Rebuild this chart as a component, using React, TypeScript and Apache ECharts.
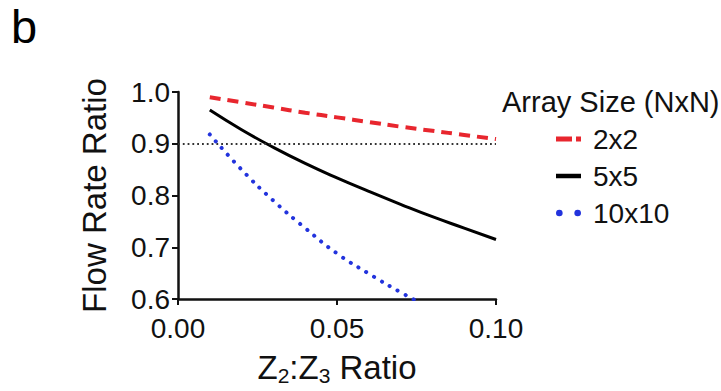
import React, { useEffect, useRef } from "react";
import * as echarts from "echarts";

const xValues = [0.01, 0.02, 0.03, 0.04, 0.05, 0.06, 0.07, 0.08, 0.09, 0.1];
const series2x2 = [0.99, 0.98, 0.97, 0.96, 0.951, 0.942, 0.933, 0.925, 0.917, 0.909];
const series5x5 = [0.965, 0.927, 0.893, 0.862, 0.834, 0.808, 0.783, 0.759, 0.737, 0.715];
const series10x10 = [0.918, 0.85, 0.79, 0.737, 0.688, 0.649, 0.613, 0.58];
const seriesNames = ["2x2", "5x5", "10x10"];
const thresholdValue = 0.9;

const FONT = "Liberation Sans, Arial, Helvetica, sans-serif";

const legendIcons = [
  "path://M0,0h16v5h-16z M20,0h5v5h-5z",
  "path://M0,0h25v4.5h-25z",
  "path://M0,2a2,2 0 1,0 4,0a2,2 0 1,0 -4,0z M11,2a2,2 0 1,0 4,0a2,2 0 1,0 -4,0z",
];

export default function App() {
  const ref = useRef<HTMLDivElement>(null);
  useEffect(() => {
    document.body.style.margin = "0";
    if (!ref.current) return;
    const chart = echarts.init(ref.current, null, { renderer: "svg" });
    const pair = (vals: number[]) => vals.map((v, i) => [xValues[i], v]);
    chart.setOption({
      animation: false,
      backgroundColor: "#ffffff",
      textStyle: { fontFamily: FONT },
      grid: { left: 178, right: 225, top: 92, bottom: 87, containLabel: false },
      graphic: [
        {
          type: "text",
          left: 11,
          top: 3,
          style: { text: "b", fontSize: 47, fontFamily: FONT, fill: "#000" },
        },
        {
          type: "text",
          left: 502,
          top: 87,
          style: { text: "Array Size (NxN)", fontSize: 29, fontFamily: FONT, fill: "#111" },
        },
      ],
      legend: {
        orient: "vertical",
        left: 551,
        top: 120,
        itemGap: 9,
        itemWidth: 25,
        itemHeight: 28,
        symbolKeepAspect: true,
        data: seriesNames.map((n, i) => ({ name: n, icon: legendIcons[i] })),
        textStyle: { fontSize: 28, fontFamily: FONT, color: "#111", padding: [0, 0, 0, 7] },
      },
      xAxis: {
        type: "value",
        min: 0,
        max: 0.1,
        interval: 0.05,
        name: "{a|Z}{s|2}{a|:Z}{s|3}{a| Ratio}",
        nameLocation: "middle",
        nameGap: 50,
        nameTextStyle: {
          rich: {
            a: { fontSize: 33, fontFamily: FONT, color: "#111" },
            s: { fontSize: 21, fontFamily: FONT, color: "#111", padding: [16, 0, 0, 0] },
          },
        },
        axisLine: { lineStyle: { color: "#111", width: 2.5 } },
        axisTick: { length: 6, lineStyle: { color: "#111", width: 2 } },
        axisLabel: {
          fontSize: 28,
          color: "#111",
          margin: 15,
          formatter: (v: number) => v.toFixed(2),
        },
        splitLine: { show: false },
      },
      yAxis: {
        type: "value",
        min: 0.6,
        max: 1.0,
        interval: 0.1,
        name: "Flow Rate Ratio",
        nameLocation: "middle",
        nameGap: 67,
        nameTextStyle: { fontSize: 33, fontFamily: FONT, color: "#111" },
        axisLine: { show: true, lineStyle: { color: "#111", width: 2.5 } },
        axisTick: { show: true, length: 6, lineStyle: { color: "#111", width: 2 } },
        axisLabel: {
          fontSize: 28,
          color: "#111",
          margin: 8,
          formatter: (v: number) => v.toFixed(1),
        },
        splitLine: { show: false },
      },
      series: [
        {
          name: seriesNames[0],
          type: "line",
          data: pair(series2x2),
          showSymbol: false,
          symbol: "none",
          smooth: true,
          color: "#e8262e",
          lineStyle: { color: "#e8262e", width: 4, type: [11, 7] },
          markLine: {
            silent: true,
            symbol: "none",
            label: { show: false },
            lineStyle: { color: "#333", width: 1.8, type: [1.8, 3] },
            data: [{ yAxis: thresholdValue }],
          },
          z: 3,
        },
        {
          name: seriesNames[1],
          type: "line",
          data: pair(series5x5),
          showSymbol: false,
          symbol: "none",
          smooth: true,
          color: "#000",
          lineStyle: { color: "#000", width: 3 },
          z: 3,
        },
        {
          name: seriesNames[2],
          type: "line",
          data: pair(series10x10),
          showSymbol: false,
          symbol: "none",
          smooth: true,
          clip: true,
          color: "#2233dd",
          lineStyle: { color: "#2233dd", width: 4, type: [0.1, 9], cap: "round" },
          z: 3,
        },
      ],
    });
    return () => chart.dispose();
  }, []);
  return <div ref={ref} style={{ width: 721, height: 391 }} />;
}
